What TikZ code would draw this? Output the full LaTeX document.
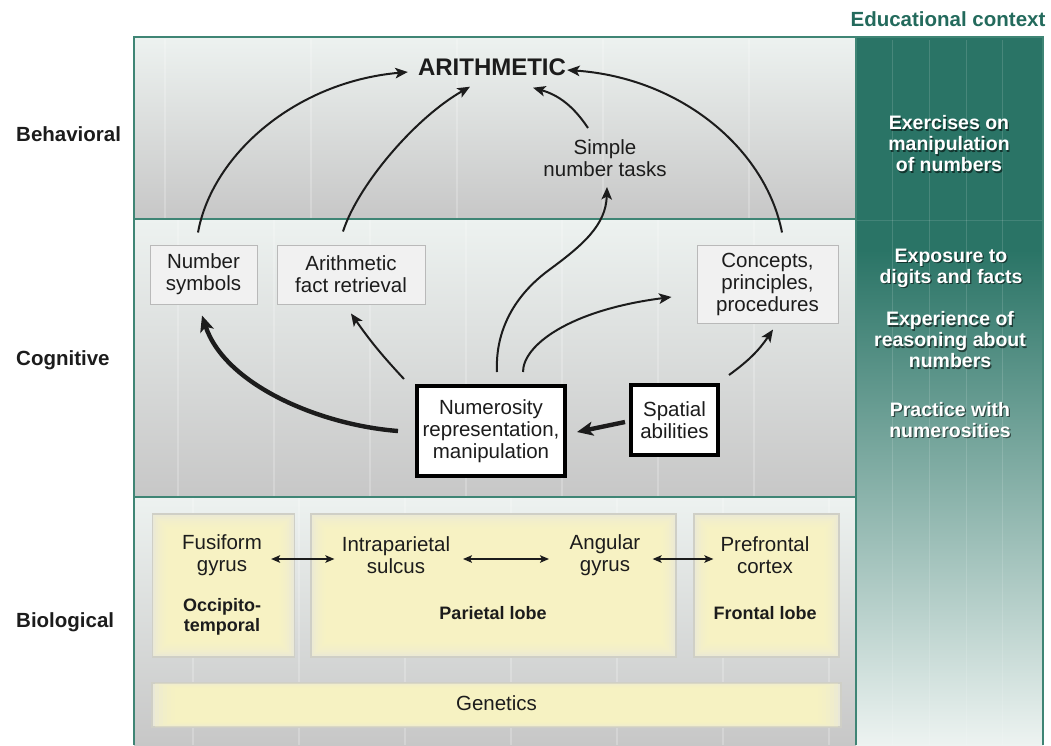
\documentclass[tikz,border=0pt]{standalone}
\usepackage{fontspec}
\setmainfont{Liberation Sans}
\usetikzlibrary{arrows.meta,calc}

\definecolor{tealcol}{HTML}{2A7466}
\definecolor{tealfade}{HTML}{EDF3F1}
\definecolor{tealtitle}{HTML}{236A5C}
\definecolor{framecol}{HTML}{3F8575}
\definecolor{bandtop}{HTML}{EDF2F0}
\definecolor{bandbot}{HTML}{C7C7C7}
\definecolor{paleyel}{HTML}{FBF6C0}
\definecolor{yelbase}{HTML}{E9E8D8}
\definecolor{yeledge}{HTML}{CFCFC6}
\definecolor{cogfill}{HTML}{F1F1F1}
\definecolor{ink}{HTML}{1C1C1C}

\tikzset{
  txt/.style={font=\fontsize{20.5}{22}\selectfont, text=ink, align=center, inner sep=0pt},
  btxt/.style={font=\bfseries\fontsize{18}{20}\selectfont, text=ink, align=center, inner sep=0pt},
  lbl/.style={font=\bfseries\fontsize{20.5}{22}\selectfont, text=ink, inner sep=0pt, anchor=base west},
  edtxt/.style={font=\bfseries\fontsize{19.5}{21}\selectfont, text=white, align=center, inner sep=0pt},
  edshadow/.style={font=\bfseries\fontsize{19.5}{21}\selectfont, text=black, text opacity=0.55, align=center, inner sep=0pt},
  cogbox/.style={txt, draw=gray!55, fill=cogfill, line width=1pt},
  keybox/.style={txt, draw=black, fill=white, line width=4pt},
  biobox/.style={draw=yeledge, fill=yelbase, line width=1.2pt, inner sep=0pt, minimum height=143pt},
  gridline/.style={white, opacity=0.22, line width=1.2pt},
  arr/.style={ink, line width=2pt, -{Stealth[length=12.5pt,width=10.5pt,inset=3pt]}},
  thickarr/.style={ink, line width=4.4pt, -{Stealth[length=16pt,width=14pt,inset=4pt]}},
  dbl/.style={ink, line width=1.6pt, {Stealth[length=9pt,width=7.5pt,inset=2pt]}-{Stealth[length=9pt,width=7.5pt,inset=2pt]}},
}

% white label with a dark drop shadow, for the educational column
\newcommand{\edlabel}[3]{%
  \node[edshadow] (#1s) at ($(#2)+(1.2,1.4)$) {#3};
  \node[edtxt] (#1) at (#2) {#3};
}

\begin{document}
\begin{tikzpicture}[x=1pt,y=-1pt]
\useasboundingbox (0,0) rectangle (1051,745);

% three level bands
\shade[top color=bandtop, bottom color=bandbot] (134,37) rectangle (856,219);
\shade[top color=bandtop, bottom color=bandbot] (134,219) rectangle (856,497);
\shade[top color=bandtop, bottom color=bandbot] (134,497) rectangle (856,745);

% educational context column
\fill[tealcol] (856,37) rectangle (1043,250);
\shade[top color=tealcol, bottom color=tealfade] (856,250) rectangle (1043,745);

% faint vertical rules
\foreach \x in {165,311,...,749} \draw[gridline] (\x,39) -- (\x,218);
\foreach \x in {178,274,...,754} \draw[gridline] (\x,220) -- (\x,496);
\foreach \x in {193,299,...,829} \draw[gridline] (\x,498) -- (\x,745);
\foreach \x in {892,929,966,1002} \draw[white, opacity=0.14, line width=1pt] (\x,40) -- (\x,745);
\draw[white, opacity=0.12, line width=1pt] (857,220) -- (1042,220);

% frame
\draw[framecol, line width=2.5pt] (134,745) -- (134,37) -- (1043,37) -- (1043,745);
\draw[framecol, line width=2.5pt] (856,37) -- (856,745);
\draw[framecol, line width=2.2pt] (134,219) -- (856,219);
\draw[framecol, line width=2.2pt] (134,497) -- (856,497);

% titles
\node[font=\bfseries\fontsize{20.5}{22}\selectfont, text=tealtitle, inner sep=0pt] (edtitle) at (948,19) {Educational context};
\node[lbl] (lbeh) at (16,141) {Behavioral};
\node[lbl] (lcog) at (16,365) {Cognitive};
\node[lbl] (lbio) at (16,627) {Biological};

% educational context items
\edlabel{edA}{949,144}{Exercises on\\manipulation\\of numbers}
\edlabel{edB}{951,268}{Exposure to\\digits and facts}
\edlabel{edC}{950,340}{Experience of\\reasoning about\\numbers}
\edlabel{edD}{950,420}{Practice with\\numerosities}

% behavioral level
\node[txt, font=\bfseries\fontsize{24}{26}\selectfont] (arith) at (492,67) {ARITHMETIC};
\node[txt] (simple) at (605,158) {Simple\\number tasks};

% cognitive level
\node[cogbox, minimum width=107pt, minimum height=59pt] (nsym) at (203.5,274.5) {Number\\symbols};
\node[cogbox, minimum width=148pt, minimum height=59pt] (afr) at (351,274.5) {Arithmetic\\fact retrieval};
\node[cogbox, minimum width=141pt, minimum height=78pt] (conc) at (767.5,284) {Concepts,\\principles,\\procedures};
\node[keybox, minimum width=148pt, minimum height=90pt] (num) at (491,431) {Numerosity\\representation,\\manipulation};
\node[keybox, minimum width=87pt, minimum height=70pt] (spa) at (674.5,420) {Spatial\\abilities};

% biological level
\node[biobox, minimum width=142pt] (fus) at (223.5,585.5) {};
\node[biobox, minimum width=365pt] (par) at (493.5,585.5) {};
\node[biobox, minimum width=145pt] (fro) at (766.5,585.5) {};
\node[biobox, minimum width=689pt, minimum height=44pt] (gen) at (496.5,705) {};
\foreach \b in {fus,par,fro}
  \foreach \i in {2,4,...,16}
    \fill[paleyel, opacity=0.2] ($(\b.north west)+(\i,\i)$) rectangle ($(\b.south east)+(-\i,-\i)$);
\foreach \i in {2,4,...,12}
  \fill[paleyel, opacity=0.25] ($(gen.north west)+(2*\i,\i/2)$) rectangle ($(gen.south east)+(-2*\i,-\i/2)$);

\node[txt] (fusT) at (222,555) {Fusiform\\gyrus};
\node[btxt] (fusL) at (222,617) {Occipito-\\temporal};
\node[txt] (ipsT) at (396,555) {Intraparietal\\sulcus};
\node[txt] (angT) at (605,555) {Angular\\gyrus};
\node[btxt] (parL) at (493,613) {Parietal lobe};
\node[txt] (pfcT) at (765,555) {Prefrontal\\cortex};
\node[btxt] (froL) at (765,613) {Frontal lobe};
\node[txt] (genT) at (496.5,703) {Genetics};

% connections between brain regions
\draw[dbl] ([shift={(-24,-26.5)}]fus.east) -- ([shift={(24,-26.5)}]par.west);
\draw[dbl] ([shift={(67,4)}]ipsT.center) -- ([shift={(-56,4)}]angT.center);
\draw[dbl] ([shift={(-24,-26.5)}]par.east) -- ([shift={(20,-26.5)}]fro.west);

% paths towards arithmetic
\draw[arr] ([shift={(-5.5,-12)}]nsym.north) .. controls (212,155) and (295,82) .. ([shift={(-10,5)}]arith.west);
\draw[arr] ([shift={(-8,-13)}]afr.north) .. controls (358,185) and (415,118) .. ([shift={(-22,11)}]arith.south);
\draw[arr] ([shift={(-17,-30)}]simple.center) to[bend right=20] ([shift={(41,12)}]arith.south);
\draw[arr] ([shift={(14.5,-12)}]conc.north) .. controls (766,150) and (682,78) .. ([shift={(1,3)}]arith.east);

% paths out of the numerosity system
\draw[arr] ([shift={(6,-12)}]num.north) .. controls (495,330) and (515,295) .. (549,270)
  .. controls (583,245) and (606,225) .. ([shift={(2,29)}]simple.center);
\draw[arr] ([shift={(32,-12)}]num.north) .. controls (523,345) and (570,310) .. ([shift={(-25,13)}]conc.west);
\draw[arr] ([shift={(-11,-5)}]num.north west) to[bend left=4] ([shift={(0,9)}]afr.south);
\draw[thickarr] ([shift={(-17,0)}]num.west) .. controls (320,425) and (225,385) .. ([shift={(-1.5,11)}]nsym.south);
\draw[thickarr] ([shift={(-4,2)}]spa.west) -- ([shift={(10,1)}]num.east);
\draw[arr] ([shift={(9,-8)}]spa.north east) to[bend right=10] ([shift={(5.5,6)}]conc.south);

\end{tikzpicture}
\end{document}
